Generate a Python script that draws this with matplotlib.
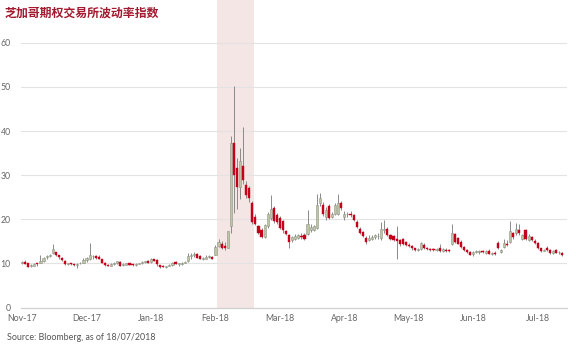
import matplotlib
matplotlib.use("Agg")
import matplotlib.pyplot as plt
import numpy as np

# ---- data ----
opens = [10.1,10.4,10.0,9.4,9.5,9.9,10.2,10.6,11.4,11.7,12.3,12.5,11.9,11.3,10.6,9.8,9.9,9.8,9.6,10.0,
         10.2,10.7,11.0,11.6,11.7,11.5,11.0,10.2,9.7,9.5,9.9,10.1,10.4,9.6,9.7,10.0,9.8,9.7,9.9,10.0,
         10.3,10.6,10.3,10.9,10.8,9.6,9.3,9.2,9.4,9.6,10.3,9.8,9.9,10.2,10.6,11.7,11.8,12.2,11.6,11.1,
         11.1,11.5,11.5,11.9,14.0,14.5,13.9,13.6,18.4,37.3,31.6,27.3,32.0,27.7,27.0,23.7,20.6,18.4,17.6,16.0,
         18.4,20.2,22.5,21.0,20.3,19.5,17.4,16.4,15.2,15.6,15.8,16.3,16.5,16.7,17.5,17.6,18.1,23.7,23.2,20.5,
         22.9,20.5,21.3,21.3,23.6,20.5,21.1,21.2,20.9,19.4,17.9,17.2,15.8,15.3,15.5,15.9,16.1,15.7,17.5,17.9,
         16.4,16.2,15.5,15.4,15.6,14.8,14.2,13.9,13.4,13.1,13.2,14.2,13.5,13.3,13.2,13.1,13.4,12.8,13.1,12.9,
         14.4,16.6,15.7,14.9,13.8,13.0,12.5,12.1,12.6,12.5,12.8,12.4,12.9,12.2,12.4,14.7,12.5,13.8,14.5,14.9,
         16.8,16.8,17.6,15.6,17.5,15.4,15.9,15.1,14.6,13.4,12.9,13.4,13.0,12.3,13.0,12.5,12.3]
highs = [10.6,10.7,10.1,9.9,10.2,10.1,11.9,11.4,12.0,12.2,14.5,12.6,12.0,11.4,10.7,10.2,10.0,9.9,10.0,10.4,
         11.2,11.5,14.6,12.0,12.0,11.8,11.1,10.3,9.8,10.1,10.3,10.6,10.5,10.1,10.2,10.1,9.9,10.0,10.0,10.5,
         10.6,10.7,11.2,11.0,10.9,9.7,9.6,9.4,9.8,10.3,10.6,10.1,10.4,10.6,12.3,12.4,12.6,12.3,11.8,11.5,
         11.9,12.0,11.7,14.1,15.5,15.1,14.8,17.4,38.8,50.3,34.0,36.2,41.0,28.6,27.6,24.2,21.2,18.8,18.0,18.9,
         21.6,25.6,23.0,21.5,20.8,19.8,17.6,16.6,16.3,16.6,16.7,16.8,17.0,22.1,19.0,18.8,25.7,25.9,24.0,22.8,
         23.4,21.6,23.8,25.7,24.2,21.8,21.6,21.8,21.3,19.8,18.3,17.4,16.2,16.4,16.5,16.6,16.8,19.4,19.8,18.2,
         16.7,16.5,18.5,15.6,15.8,15.0,14.6,14.1,13.6,13.4,14.9,14.6,13.8,13.6,13.5,13.5,14.5,13.5,13.4,13.3,
         18.9,17.0,16.0,15.2,14.0,13.2,12.8,12.9,13.1,13.0,13.1,13.0,13.2,12.6,12.7,15.0,13.2,15.6,15.2,19.6,
         17.2,19.2,19.0,16.7,17.9,16.6,16.3,15.5,14.8,13.6,13.3,13.9,13.2,13.0,13.2,12.8,12.5]
lows = [9.9,9.9,9.1,9.2,9.3,9.4,10.1,10.3,11.0,11.4,12.1,11.6,11.1,10.6,9.7,9.6,9.6,9.5,8.9,9.8,
        10.0,10.4,10.8,10.9,11.1,10.9,10.1,9.5,9.3,9.4,9.7,9.8,9.4,9.5,9.6,9.6,9.5,9.5,9.8,9.9,
        10.1,10.1,10.1,10.5,9.5,9.0,9.1,9.0,9.3,9.5,9.8,9.5,9.7,10.0,10.3,11.1,11.4,11.2,10.9,10.8,
        10.9,11.2,10.9,11.8,13.8,13.3,13.0,13.5,17.0,21.4,22.4,24.6,28.0,24.8,24.0,19.0,18.6,16.6,15.8,15.7,
        18.0,19.8,19.2,19.0,17.8,17.0,16.4,13.5,14.9,15.3,15.5,15.6,15.4,16.4,17.2,17.3,17.9,23.0,20.8,19.8,
        20.0,20.2,20.9,21.0,22.0,19.8,20.5,20.6,19.6,18.0,16.6,15.9,14.5,15.0,15.2,15.5,15.6,15.4,17.0,16.2,
        15.3,15.0,11.1,14.0,14.2,13.9,13.8,13.1,12.8,12.7,13.0,13.2,13.0,12.9,12.8,12.8,12.6,12.6,12.6,12.6,
        14.1,14.6,14.3,13.6,12.9,12.3,11.9,11.7,12.3,12.2,12.3,12.2,12.1,11.9,11.9,13.2,12.3,13.5,13.9,14.7,
        15.6,16.5,16.5,15.3,15.4,15.1,15.0,14.4,13.2,12.6,12.7,12.9,12.2,12.1,12.3,12.2,11.7]
closes = [10.3,9.9,9.2,9.4,9.9,9.8,10.6,11.3,11.6,12.0,13.2,11.8,11.4,10.7,9.8,9.9,9.8,9.7,9.9,10.2,
          10.8,11.3,11.8,11.7,11.3,11.0,10.2,9.6,9.4,9.9,10.2,10.5,9.5,9.7,10.0,9.7,9.6,9.9,9.9,10.3,
          10.5,10.2,11.0,10.6,9.8,9.2,9.2,9.2,9.5,10.1,9.8,9.9,10.2,10.4,11.7,12.0,12.2,11.3,11.0,11.2,
          11.5,11.6,11.1,13.8,14.8,13.6,13.5,17.3,37.3,30.0,27.4,33.3,28.8,25.5,24.8,19.4,19.0,16.8,16.0,18.7,
          21.2,22.4,19.5,19.4,18.0,17.6,16.6,14.8,16.0,16.2,16.5,15.9,15.6,19.0,18.3,18.4,23.3,24.8,21.3,22.2,
          20.2,21.3,23.3,23.6,22.5,21.3,21.3,20.9,19.8,18.2,16.8,16.1,14.9,15.8,16.0,16.4,16.3,17.9,17.8,16.4,
          15.5,15.3,15.1,14.4,14.4,14.2,14.0,13.4,13.0,13.2,14.7,13.5,13.2,13.1,13.0,13.2,12.7,13.3,12.8,12.8,
          16.9,14.9,14.5,13.8,13.0,12.5,12.0,12.6,12.7,12.7,12.5,12.9,12.2,12.4,12.2,13.4,13.0,14.7,14.1,17.4,
          15.9,17.7,16.8,16.4,15.6,16.2,15.3,14.6,13.4,12.7,13.0,13.0,12.3,12.8,12.4,12.6,12.0]

month_labels = ["Nov-17", "Dec-17", "Jan-18", "Feb-18", "Mar-18", "Apr-18", "May-18", "Jun-18", "Jul-18"]
label_step = 21
shade_range = (64, 75)   # candle indices covered by the highlighted period
yticks = [0, 10, 20, 30, 40, 50, 60]

title = "芝加哥期权交易所波动率指数"
source = "Source: Bloomberg, as of 18/07/2018"

# ---- drawing ----
plt.rcParams['font.family'] = ['Lato', 'DejaVu Sans']
W, H = 576, 347
fig = plt.figure(figsize=(W / 100, H / 100), dpi=100)
ax = fig.add_axes([20.5 / W, 1 - 307.5 / H, (567 - 20.5) / W, 307.5 / H])

o = np.array(opens); h = np.array(highs); l = np.array(lows); c = np.array(closes)
n = len(c)
x = np.arange(n)
up = c >= o

up_face = "#bcc5a4"
up_edge = "#8e9585"
down_face = "#c4001a"
wick = "#8a8a8a"

ax.axvspan(shade_range[0] - 0.5, shade_range[1] + 0.5, color="#f4e6e5", zorder=0, lw=0)
for yv in yticks[1:]:
    ax.axhline(yv, color="#e3e3e3", lw=0.8, zorder=1)

ax.vlines(x, l, h, color=wick, lw=0.7, zorder=2)
bottom = np.minimum(o, c)
height = np.maximum(np.abs(c - o), 0.18)
ax.bar(x[up], height[up], bottom=bottom[up], width=0.7, color=up_face,
       edgecolor=up_edge, linewidth=0.4, zorder=3)
ax.bar(x[~up], height[~up], bottom=bottom[~up], width=0.7, color=down_face,
       edgecolor=down_face, linewidth=0.3, zorder=3)

ax.set_xlim(-0.5, 177.5)
ax.set_ylim(0, 69.7)
ax.set_yticks(yticks)
ax.set_yticklabels([str(v) for v in yticks])
ticks = [i * label_step for i in range(len(month_labels))]
ax.set_xticks(ticks)
ax.set_xticklabels(month_labels)
ax.tick_params(axis="both", length=0, labelsize=6.3, colors="#666666")
ax.tick_params(axis="y", pad=7)
ax.tick_params(axis="x", pad=5)
for s in ["top", "right", "left"]:
    ax.spines[s].set_visible(False)
ax.spines["bottom"].set_color("#d0d0d0")
ax.spines["bottom"].set_linewidth(0.9)
ax.patch.set_alpha(0)

fig.text(5 / W, 1 - 13 / H, title, fontsize=8.6, fontweight="bold", color="#a3192e",
         family=["Noto Sans CJK SC", "DejaVu Sans"], va="center", ha="left")
fig.text(7 / W, 1 - 337 / H, source, fontsize=6.4, color="#555555", va="center", ha="left")

fig.savefig("out.png", dpi=100)
